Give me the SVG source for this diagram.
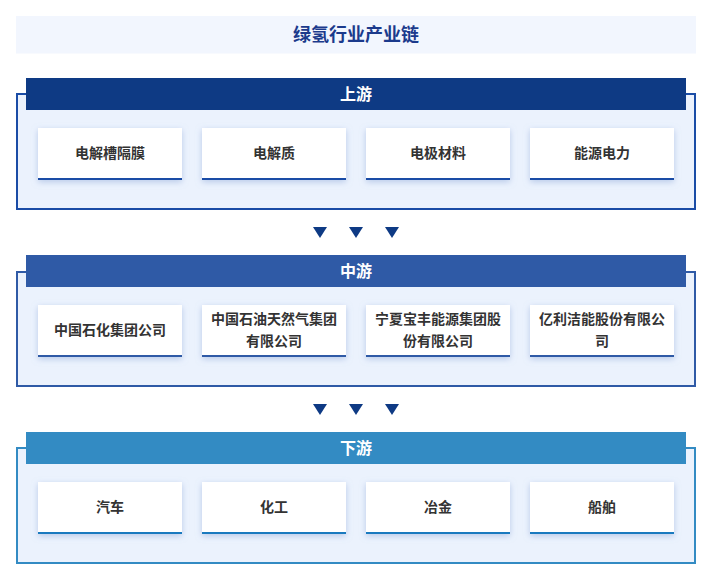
<svg xmlns="http://www.w3.org/2000/svg" width="714" height="584" viewBox="0 0 714 584">
<defs>
<filter id="sh" x="-20%" y="-30%" width="140%" height="170%">
<feDropShadow dx="0" dy="2" stdDeviation="3" flood-color="#8fa8d8" flood-opacity="0.55"/>
</filter>
<path id="tri" d="M-7,0 L7,0 L0,11 Z"/>
</defs>
<style>
.title{font-family:"Noto Sans CJK SC","Noto Sans",sans-serif;font-weight:bold;font-size:18px;fill:#1b3a8c}
.hdr{font-family:"Noto Sans CJK SC","Noto Sans",sans-serif;font-weight:bold;font-size:16px;fill:#ffffff}
.lbl{font-family:"Noto Sans CJK SC","Noto Sans",sans-serif;font-weight:bold;font-size:14px;fill:#333333}
.panel{fill:#ebf2fd;stroke-width:2}
.card{fill:#ffffff;filter:url(#sh)}
.arrow{fill:#0e3a84}
</style>
<rect x="16" y="16" width="680" height="37.5" fill="#f2f6fe"/>
<text class="title" x="356" y="41" text-anchor="middle">绿氢行业产业链</text>

<g id="upstream">
<rect class="panel" x="17" y="94" width="678" height="115" stroke="#1a4ca6"/>
<rect x="26" y="78" width="660" height="32" fill="#0e3a84"/>
<text class="hdr" x="356" y="100" text-anchor="middle">上游</text>
</g>
<g id="up1"><rect class="card" x="38" y="128" width="144" height="52"/><rect x="38" y="178" width="144" height="2" fill="#1a4ca6"/><text class="lbl" x="110" y="158" text-anchor="middle">电解槽隔膜</text></g>
<g id="up2"><rect class="card" x="202" y="128" width="144" height="52"/><rect x="202" y="178" width="144" height="2" fill="#1a4ca6"/><text class="lbl" x="274" y="158" text-anchor="middle">电解质</text></g>
<g id="up3"><rect class="card" x="366" y="128" width="144" height="52"/><rect x="366" y="178" width="144" height="2" fill="#1a4ca6"/><text class="lbl" x="438" y="158" text-anchor="middle">电极材料</text></g>
<g id="up4"><rect class="card" x="530" y="128" width="144" height="52"/><rect x="530" y="178" width="144" height="2" fill="#1a4ca6"/><text class="lbl" x="602" y="158" text-anchor="middle">能源电力</text></g>

<g id="midstream">
<rect class="panel" x="17" y="272" width="678" height="114" stroke="#2f5aa6"/>
<rect x="26" y="255" width="660" height="32" fill="#2f5aa6"/>
<text class="hdr" x="356" y="277" text-anchor="middle">中游</text>
</g>
<g id="mid1"><rect class="card" x="38" y="305" width="144" height="52"/><rect x="38" y="355" width="144" height="2" fill="#2f5aa6"/><text class="lbl" x="110" y="335" text-anchor="middle">中国石化集团公司</text></g>
<g id="mid2"><rect class="card" x="202" y="305" width="144" height="52"/><rect x="202" y="355" width="144" height="2" fill="#2f5aa6"/><text class="lbl" x="274" y="324" text-anchor="middle">中国石油天然气集团</text><text class="lbl" x="274" y="346" text-anchor="middle">有限公司</text></g>
<g id="mid3"><rect class="card" x="366" y="305" width="144" height="52"/><rect x="366" y="355" width="144" height="2" fill="#2f5aa6"/><text class="lbl" x="438" y="324" text-anchor="middle">宁夏宝丰能源集团股</text><text class="lbl" x="438" y="346" text-anchor="middle">份有限公司</text></g>
<g id="mid4"><rect class="card" x="530" y="305" width="144" height="52"/><rect x="530" y="355" width="144" height="2" fill="#2f5aa6"/><text class="lbl" x="602" y="324" text-anchor="middle">亿利洁能股份有限公</text><text class="lbl" x="602" y="346" text-anchor="middle">司</text></g>

<g id="downstream">
<rect class="panel" x="17" y="448" width="678" height="115" stroke="#338bc3"/>
<rect x="26" y="432" width="660" height="32" fill="#338bc3"/>
<text class="hdr" x="356" y="454" text-anchor="middle">下游</text>
</g>
<g id="down1"><rect class="card" x="38" y="482" width="144" height="52"/><rect x="38" y="532" width="144" height="2" fill="#1a7abf"/><text class="lbl" x="110" y="512" text-anchor="middle">汽车</text></g>
<g id="down2"><rect class="card" x="202" y="482" width="144" height="52"/><rect x="202" y="532" width="144" height="2" fill="#1a7abf"/><text class="lbl" x="274" y="512" text-anchor="middle">化工</text></g>
<g id="down3"><rect class="card" x="366" y="482" width="144" height="52"/><rect x="366" y="532" width="144" height="2" fill="#1a7abf"/><text class="lbl" x="438" y="512" text-anchor="middle">冶金</text></g>
<g id="down4"><rect class="card" x="530" y="482" width="144" height="52"/><rect x="530" y="532" width="144" height="2" fill="#1a7abf"/><text class="lbl" x="602" y="512" text-anchor="middle">船舶</text></g>

<g id="connectors" class="arrow">
<use href="#tri" x="320" y="227"/>
<use href="#tri" x="356" y="227"/>
<use href="#tri" x="392" y="227"/>
<use href="#tri" x="320" y="404"/>
<use href="#tri" x="356" y="404"/>
<use href="#tri" x="392" y="404"/>
</g>
</svg>
